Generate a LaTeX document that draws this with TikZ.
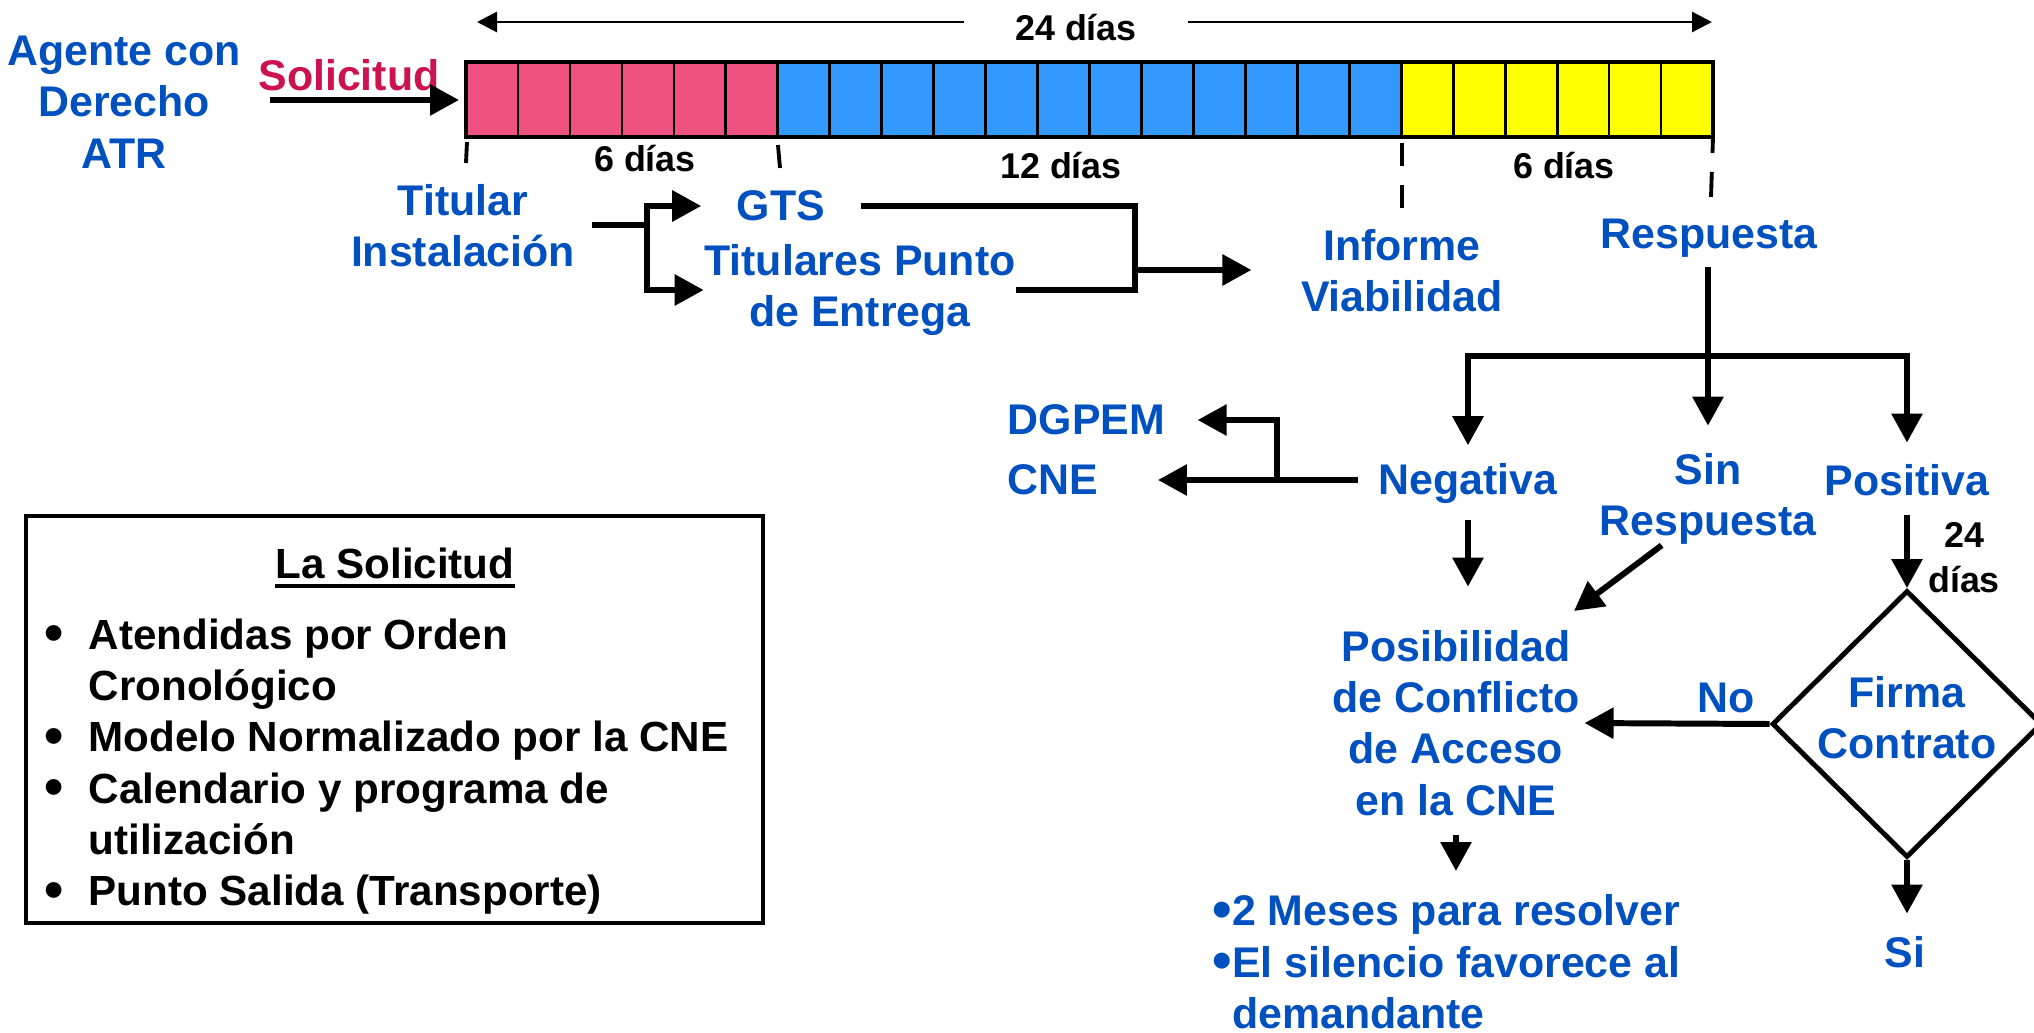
\documentclass[tikz,border=0pt]{standalone}
\usepackage{fontspec}
\setmainfont{Liberation Sans}
\usetikzlibrary{arrows.meta,shapes.geometric}
\definecolor{pinkday}{RGB}{239,82,128}
\definecolor{blueday}{RGB}{51,153,255}
\definecolor{yellowday}{RGB}{255,255,0}
\definecolor{bluetext}{RGB}{0,80,192}
\definecolor{redtext}{RGB}{204,19,80}
\newcommand{\solbullet}{\raisebox{-0.025cm}{\scalebox{1.3}{\textbullet}}}

\begin{document}
\begin{tikzpicture}[
        bluelbl/.style={text=bluetext, font=\fontsize{12.2}{14.6}\selectfont\bfseries, align=center, inner sep=0pt},
        daylbl/.style={font=\fontsize{10.2}{12.8}\selectfont\bfseries, align=center, inner sep=0pt},
        boxlbl/.style={font=\fontsize{12}{14.6}\selectfont\bfseries, inner sep=0pt},
        thickline/.style={line width=1.7pt},
        thickarrow/.style={line width=1.7pt, -{Triangle[length=0.29cm,width=0.30cm]}},
        daytick/.style={line width=1.1pt, dash pattern=on 0.23cm off 0.19cm}]
    \useasboundingbox (0,0) rectangle (20.34,10.32);
    \clip (0,0) rectangle (20.34,10.32);

    \draw[fill=pinkday, draw=none] (4.66,8.95) rectangle (7.78,9.70);
    \draw[fill=blueday, draw=none] (7.78,8.95) rectangle (14.02,9.70);
    \draw[fill=yellowday, draw=none] (14.02,8.95) rectangle (17.13,9.70);
    \foreach \i in {1,...,23}
        \draw[line width=0.75pt] (4.66+\i*0.5196,8.95) -- (4.66+\i*0.5196,9.70);
    \draw[line width=1.4pt] (4.66,8.95) rectangle (17.13,9.70);

    \node[daylbl, inner xsep=0.51cm] (total) at (10.76,10.04) {24 días};
    \coordinate (tL) at (4.77,10.10);
    \coordinate (tR) at (17.12,10.10);
    \draw[line width=0.85pt, -{Triangle[length=0.2cm,width=0.2cm]}] (total.west |- tL) -- (tL);
    \draw[line width=0.85pt, -{Triangle[length=0.2cm,width=0.2cm]}] (total.east |- tR) -- (tR);

    \node[daylbl] (d6a) at (6.45,8.73) {6 días};
    \node[daylbl] (d12) at (10.61,8.66) {12 días};
    \node[daylbl] (d6b) at (15.64,8.66) {6 días};
    \draw[daytick] (4.67,8.90) -- (4.66,8.69);
    \draw[daytick] (7.78,8.87) -- (7.80,8.64);
    \draw[daytick] (14.02,8.89) -- (14.02,8.24);
    \draw[daytick, dash pattern=on 0.16cm off 0.19cm on 0.25cm off 0.2cm] (17.13,8.95) -- (17.11,8.35);

    \node[bluelbl] (agente) at (1.24,9.30) {Agente con\\Derecho\\ATR};
    \node[bluelbl, text=redtext] (solicitud) at (3.49,9.57) {Solicitud};
    \coordinate (solIn) at (2.70,9.32);
    \coordinate (barW) at (4.59,9.32);
    \draw[thickarrow] (solIn) -- (barW);

    \node[bluelbl] (titular) at (4.63,8.06) {Titular\\Instalación};
    \node[bluelbl, inner xsep=0.35cm] (gts) at (7.81,8.26) {GTS};
    \node[bluelbl] (tpe) at (8.60,7.42) {Titulares Punto\\de Entrega};
    \node[bluelbl] (informe) at (14.02,7.61) {Informe\\Viabilidad};
    \node[bluelbl] (respuesta) at (17.09,7.94) {Respuesta};
    \coordinate (fork) at (6.47,8.07);
    \coordinate (merge) at (11.35,7.62);
    \draw[thickline, shorten <=0.16cm] (titular.east |- fork) -- (fork);
    \draw[thickarrow] (fork) |- (gts.west);
    \draw[thickarrow] (fork) |- (tpe.west);
    \draw[thickline] (gts.east) -| (merge |- tpe.east) -- (tpe.east);
    \draw[thickarrow, shorten >=0.49cm] (merge) -- (informe.west |- merge);

    \node[bluelbl] (negativa) at (14.68,5.48) {Negativa};
    \node[bluelbl] (sinr) at (17.08,5.33) {Sin\\Respuesta};
    \node[bluelbl] (positiva) at (19.07,5.52) {Positiva};
    \node[bluelbl, anchor=west] (dgpem) at (10.07,6.12) {DGPEM};
    \node[bluelbl, anchor=west] (cne) at (10.07,5.52) {CNE};
    \coordinate (split) at (17.08,6.76);
    \coordinate (negfork) at (12.77,5.52);
    \draw[thickline, shorten <=0.09cm] (respuesta.south -| split) -- (split);
    \draw[thickarrow, shorten >=0.27cm] (split) -- (sinr.north);
    \draw[thickarrow, shorten >=0.18cm] (split) -| (negativa.north);
    \draw[thickarrow, shorten >=0.21cm] (split) -| (positiva.north);
    \draw[thickarrow, shorten <=0.2cm, shorten >=0.59cm] (negativa.west |- cne.east) -- (cne.east);
    \draw[thickarrow, shorten >=0.32cm] (negfork) |- (dgpem.east);

    \node[bluelbl] (posib) at (14.56,3.09) {Posibilidad\\de Conflicto\\de Acceso\\en la CNE};
    \node[draw, diamond, line width=1.4pt, minimum width=2.70cm, minimum height=2.67cm, inner sep=0pt,
        label={[bluelbl, yshift=0.06cm]center:Firma\\Contrato}] (firma) at (19.07,3.08) {};
    \node[daylbl] (d24) at (19.64,4.74) {24\\días};
    \node[bluelbl] (no) at (17.26,3.34) {No};
    \node[bluelbl] (si) at (19.05,0.80) {Si};
    \node[bluelbl, align=left, anchor=north west] (plazo) at (12.12,1.38) {\solbullet2 Meses para resolver\\\solbullet El silencio favorece al\\\phantom{\solbullet}demandante};
    \coordinate (conflin) at (15.74,4.21);
    \draw[thickarrow, shorten <=0.15cm, shorten >=0.43cm] (negativa.south) -- (negativa.south |- posib.north);
    \draw[thickarrow] (sinr.-135) -- (conflin);
    \draw[thickarrow, shorten <=0.19cm] (positiva.south) -- (firma.north);
    \draw[thickarrow, shorten >=0.04cm] (firma.west) -- (posib.east);
    \draw[thickarrow, shorten <=0.19cm, shorten >=0.23cm] (posib.south) -- (posib.south |- plazo.north);
    \draw[thickarrow, shorten >=0.22cm] (firma.south) -- (si.north -| firma.south);

    \draw[line width=1pt] (0.26,1.09) rectangle (7.63,5.16);
    \node[boxlbl] (titulo) at (3.95,4.69) {La Solicitud};
    \draw[line width=1.1pt] ([yshift=-0.07cm]titulo.south west) -- ([yshift=-0.07cm]titulo.south east);
    \node[boxlbl, align=left, anchor=north west] (lista) at (0.44,4.14) {\makebox[0.44cm][l]{\solbullet}Atendidas por Orden\\
        \hspace*{0.44cm}Cronológico\\
        \makebox[0.44cm][l]{\solbullet}Modelo Normalizado por la CNE\\
        \makebox[0.44cm][l]{\solbullet}Calendario y programa de\\
        \hspace*{0.44cm}utilización\\
        \makebox[0.44cm][l]{\solbullet}Punto Salida (Transporte)};
\end{tikzpicture}
\end{document}
